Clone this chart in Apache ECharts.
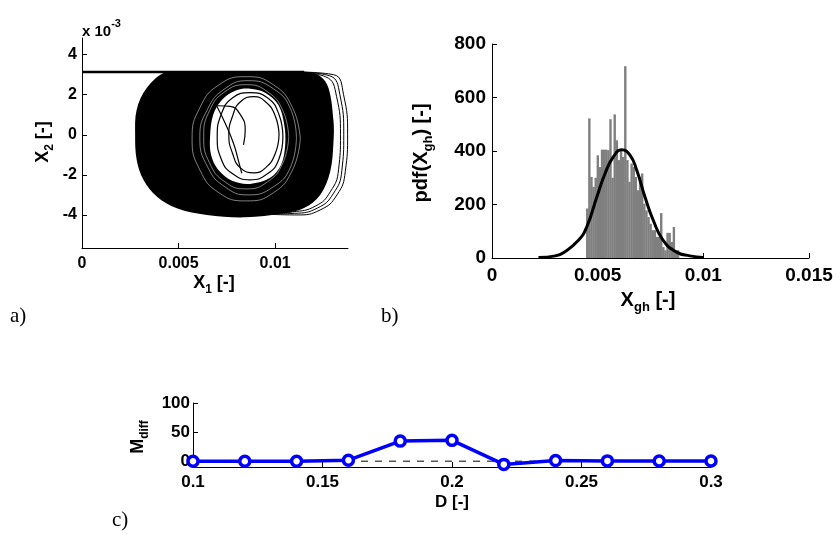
<!DOCTYPE html>
<html>
<head>
<meta charset="utf-8">
<script src="https://cdn.jsdelivr.net/npm/echarts@6/dist/echarts.min.js"></script>
<style>
  html, body { margin: 0; background: #fff; }
  #chart { width: 840px; height: 534px; }
</style>
</head>
<body>
<div id="chart"></div>
<script>
// ---- panel a: phase portrait (X1 in [-], X2 in 1e-3 [-]) ----
const topLineX = [0, 0.0115];
const topLineY = [3.13, 3.13];

const outerX = [0.00434, 0.00335, 0.00283, 0.00275, 0.00283, 0.00318, 0.00387, 0.00491, 0.00646, 0.00845,
  0.01043, 0.01147, 0.01233, 0.01285, 0.01302, 0.01302, 0.01276, 0.01230, 0.01150, 0.0100, 0.0075, 0.0055];
const outerY = [3.13, 2.33, 1.25, 0, -1.25, -2.25, -3.08, -3.67, -4.0, -4.12,
  -3.92, -3.67, -3.0, -1.83, -0.33, 0.67, 2.33, 2.95, 3.13, 3.13, 3.13, 3.13];

const holeX = [0.00663, 0.00679, 0.00725, 0.00793, 0.0087, 0.00948, 0.01016, 0.01047, 0.01052, 0.01031,
  0.00974, 0.0087, 0.00777, 0.00705, 0.00668];
const holeY = [-0.1, 1.0, 1.75, 2.2, 2.3, 2.1, 1.5, 0.5, -0.5, -1.5, -2.15, -2.45, -2.3, -1.75, -1.0];

// thin white gaps in the dense ring around the hole
const ringLoopsX = [
  [0.0107, 0.0104, 0.0096, 0.0085, 0.0074, 0.0066, 0.0063, 0.0066, 0.0074, 0.0085, 0.0096, 0.0104, 0.0107],
  [0.0111, 0.0108, 0.0099, 0.0086, 0.0074, 0.0065, 0.0061, 0.0065, 0.0074, 0.0086, 0.0099, 0.0108, 0.0111],
  [0.0113, 0.0109, 0.0099, 0.0085, 0.0071, 0.0061, 0.0057, 0.0061, 0.0071, 0.0085, 0.0099, 0.0109, 0.0113]
];
const ringLoopsY = [
  [-0.1, 1.2, 2.15, 2.5, 2.15, 1.2, -0.1, -1.4, -2.35, -2.7, -2.35, -1.4, -0.1],
  [-0.15, 1.28, 2.3, 2.7, 2.3, 1.28, -0.15, -1.6, -2.6, -3.0, -2.6, -1.6, -0.15],
  [-0.2, 1.35, 2.5, 2.9, 2.5, 1.35, -0.2, -1.75, -2.9, -3.3, -2.9, -1.75, -0.2]
];

// black trajectory strands inside the hole
const innerLoopsX = [
  [0.0104, 0.0102, 0.0096, 0.0087, 0.0078, 0.0072, 0.0070, 0.0072, 0.0078, 0.0087, 0.0096, 0.0102, 0.0104],
  [0.0102, 0.0100, 0.0095, 0.0089, 0.0082, 0.0078, 0.0076, 0.0078, 0.0082, 0.0089, 0.0095, 0.0100, 0.0102],
  [0.00698, 0.0074, 0.00784, 0.0081, 0.00827],
  [0.00836, 0.00845, 0.0082, 0.00767, 0.00705, 0.0067]
];
const innerLoopsY = [
  [-0.1, 1.0, 1.85, 2.1, 1.85, 1.0, -0.1, -1.2, -1.95, -2.25, -1.95, -1.2, -0.1],
  [0, 0.95, 1.65, 1.9, 1.65, 0.95, 0, -0.95, -1.65, -1.9, -1.65, -0.95, 0],
  [1.42, 0.6, -0.42, -1.3, -1.92],
  [-0.5, 0.25, 1.0, 1.42, 1.45, 1.2]
];

// outer loops on the right side
const rightLoopsX = [
  [0.0113, 0.01302, 0.01354, 0.01375, 0.01363, 0.0132, 0.01233, 0.01112, 0.00974],
  [0.0112, 0.0128, 0.01335, 0.01355, 0.01345, 0.0130, 0.0122, 0.0110, 0.0097],
  [0.0111, 0.0126, 0.01318, 0.01338, 0.01328, 0.01285, 0.0121, 0.0109, 0.0097]
];
const rightLoopsY = [
  [3.13, 3.0, 2.0, 0, -1.83, -3.0, -3.75, -4.0, -3.97],
  [3.13, 2.95, 2.0, 0, -1.8, -2.95, -3.65, -3.92, -3.95],
  [3.13, 2.9, 1.9, 0, -1.75, -2.85, -3.55, -3.85, -3.93]
];

// ---- panel b: histogram and fitted pdf ----
const binCenters = [0.0045, 0.0046, 0.0047, 0.0048, 0.0049, 0.0050, 0.0051, 0.0052, 0.0053, 0.0054,
  0.0055, 0.0056, 0.0057, 0.0058, 0.0059, 0.0060, 0.0061, 0.0062, 0.0063, 0.0064,
  0.0065, 0.0066, 0.0067, 0.0068, 0.0069, 0.0070, 0.0071, 0.0072, 0.0073, 0.0074,
  0.0075, 0.0076, 0.0077, 0.0078, 0.0079, 0.0080, 0.0081, 0.0082, 0.0083, 0.0084,
  0.0085, 0.0086, 0.0087, 0.0088];
const pdfCounts = [185, 522, 303, 266, 300, 384, 340, 405, 405, 405,
  403, 519, 300, 537, 440, 366, 403, 378, 717, 366,
  285, 353, 340, 303, 253, 303, 316, 203, 178, 153,
  128, 104, 104, 79, 79, 168, 41, 29, 94, 94,
  60, 116, 29, 29];
const curveX = [0.0022, 0.0030, 0.00338, 0.00409, 0.00448, 0.00496, 0.00535, 0.00574, 0.00614, 0.00653,
  0.00685, 0.00724, 0.00763, 0.0081, 0.00873, 0.00936, 0.00999];
const curveY = [2, 8, 20, 66, 116, 228, 316, 378, 405, 385, 328, 228, 141, 66, 22, 8, 2];

// ---- panel c: M_diff versus D ----
const dValues = [0.1, 0.12, 0.14, 0.16, 0.18, 0.2, 0.22, 0.24, 0.26, 0.28, 0.3];
const mDiff = [0, 0, 0, 1.7, 34.5, 35.8, -5.5, 1, 0.5, 0.3, 0.3];
const zeroLineX = [0.1, 0.3];
const zeroLineY = [0, 0];

const FONT = 'Liberation Sans';
const pairs = (xs, ys) => xs.map((x, i) => [x, ys[i]]);

function polygon(xs, ys, fill) {
  return {
    type: 'custom', xAxisIndex: 0, yAxisIndex: 0, silent: true,
    data: pairs(xs, ys),
    renderItem(params, api) {
      if (params.dataIndex !== 0) return null;
      const pts = xs.map((x, i) => api.coord([x, ys[i]]));
      return { type: 'polygon', shape: { points: pts, smooth: 0.35 }, style: { fill: fill } };
    }
  };
}
function strand(xs, ys, color, width) {
  return {
    type: 'line', xAxisIndex: 0, yAxisIndex: 0, silent: true, smooth: 0.5,
    showSymbol: false, symbol: 'none', data: pairs(xs, ys),
    lineStyle: { color: color, width: width }
  };
}

function ticks(values) {
  return { show: true, inside: true, length: 5, customValues: values, lineStyle: { color: '#000' } };
}
function labels(values, size, margin) {
  return { color: '#000', fontFamily: FONT, fontWeight: 'bold', fontSize: size, margin: margin, customValues: values };
}
function axis(gridIndex, min, max, values, size, margin) {
  return {
    type: 'value', gridIndex: gridIndex, min: min, max: max,
    axisLine: { show: true, onZero: false, lineStyle: { color: '#000', width: 1 } },
    axisTick: ticks(values),
    axisLabel: labels(values, size, margin),
    splitLine: { show: false }
  };
}

const chart = echarts.init(document.getElementById('chart'));

const series = [];
series.push(polygon(outerX, outerY, '#000'));
ringLoopsX.forEach((xs, i) => series.push(strand(xs, ringLoopsY[i], '#fff', 0.5)));
series.push(polygon(holeX, holeY, '#fff'));
innerLoopsX.forEach((xs, i) => series.push(strand(xs, innerLoopsY[i], '#000', 1.2)));
rightLoopsX.forEach((xs, i) => series.push(strand(xs, rightLoopsY[i], '#000', 1)));
series.push({
  type: 'line', xAxisIndex: 0, yAxisIndex: 0, silent: true, symbol: 'none',
  data: pairs(topLineX, topLineY), lineStyle: { color: '#000', width: 2.5 }
});

series.push({
  type: 'custom', xAxisIndex: 1, yAxisIndex: 1, silent: true,
  data: pairs(binCenters, pdfCounts),
  renderItem(params, api) {
    const x = api.value(0), h = api.value(1);
    const p0 = api.coord([x - 0.00005, h]);
    const p1 = api.coord([x + 0.00005, 0]);
    return { type: 'rect', shape: { x: p0[0], y: p0[1], width: p1[0] - p0[0] + 0.3, height: p1[1] - p0[1] },
      style: { fill: '#7f7f7f' } };
  }
});
series.push({
  type: 'line', xAxisIndex: 1, yAxisIndex: 1, silent: true, smooth: true, symbol: 'none',
  data: pairs(curveX, curveY), lineStyle: { color: '#000', width: 3 }, z: 5
});

series.push({
  type: 'line', xAxisIndex: 2, yAxisIndex: 2, silent: true, symbol: 'none',
  data: pairs(zeroLineX, zeroLineY), lineStyle: { color: '#000', width: 1, type: [7, 7] }
});
series.push({
  type: 'line', xAxisIndex: 2, yAxisIndex: 2, silent: true,
  data: pairs(dValues, mDiff), symbol: 'circle', symbolSize: 10,
  lineStyle: { color: '#0000ff', width: 3.5 },
  itemStyle: { color: '#fff', borderColor: '#0000ff', borderWidth: 3.5 }, z: 5
});

const sub = (size, pad) => ({ fontFamily: FONT, fontWeight: 'bold', fontSize: size, verticalAlign: 'bottom', padding: [pad, 0, 0, 0] });
const main = (size) => ({ fontFamily: FONT, fontWeight: 'bold', fontSize: size, verticalAlign: 'top' });

function label(x, y, text, rich, rot) {
  return { type: 'text', x: x, y: y, rotation: rot || 0,
    style: { text: text, rich: rich, align: 'center', verticalAlign: 'middle', fill: '#000' } };
}
function serif(x, y, text) {
  return { type: 'text', x: x, y: y,
    style: { text: text, fontFamily: 'Liberation Serif', fontSize: 21, fill: '#000', align: 'left', verticalAlign: 'middle' } };
}

chart.setOption({
  animation: false,
  backgroundColor: '#fff',
  grid: [
    { left: 82, top: 38, width: 266, height: 210 },
    { left: 492, top: 44, width: 317, height: 214 },
    { left: 193, top: 403, width: 518, height: 64 }
  ],
  xAxis: [
    axis(0, 0, 0.01377, [0, 0.005, 0.01], 16, 8),
    axis(1, 0, 0.015, [0, 0.005, 0.01, 0.015], 19, 8),
    axis(2, 0.1, 0.3, [0.1, 0.15, 0.2, 0.25, 0.3], 17, 7)
  ],
  yAxis: [
    axis(0, -5.65, 4.83, [-4, -2, 0, 2, 4], 16, 5),
    axis(1, 0, 800, [0, 200, 400, 600, 800], 19, 6),
    axis(2, -10, 100, [0, 50, 100], 17, 3)
  ],
  series: series,
  graphic: [
    { type: 'text', left: 82, top: 18,
      style: { text: '{m|x 10}{p|-3}', fill: '#000',
        rich: { m: { fontFamily: FONT, fontWeight: 'bold', fontSize: 15, verticalAlign: 'bottom', padding: [6, 0, 0, 0] },
                p: { fontFamily: FONT, fontWeight: 'bold', fontSize: 11, verticalAlign: 'top' } } } },
    label(45, 142, '{m|X}{s|2}{m| [-]}', { m: main(18), s: sub(12, 10) }, Math.PI / 2),
    label(214, 285, '{m|X}{s|1}{m| [-]}', { m: main(18), s: sub(12, 10) }),
    label(423, 153, '{m|pdf(X}{s|gh}{m|) [-]}', { m: main(20), s: sub(13, 11) }, Math.PI / 2),
    label(648, 302, '{m|X}{s|gh}{m| [-]}', { m: main(20), s: sub(13, 11) }),
    label(140, 437, '{m|M}{s|diff}', { m: main(18), s: sub(12, 10) }, Math.PI / 2),
    label(452, 502, '{m|D [-]}', { m: main(17) }),
    serif(10, 316, 'a)'),
    serif(381, 316, 'b)'),
    serif(112, 520, 'c)')
  ]
});
</script>
</body>
</html>
